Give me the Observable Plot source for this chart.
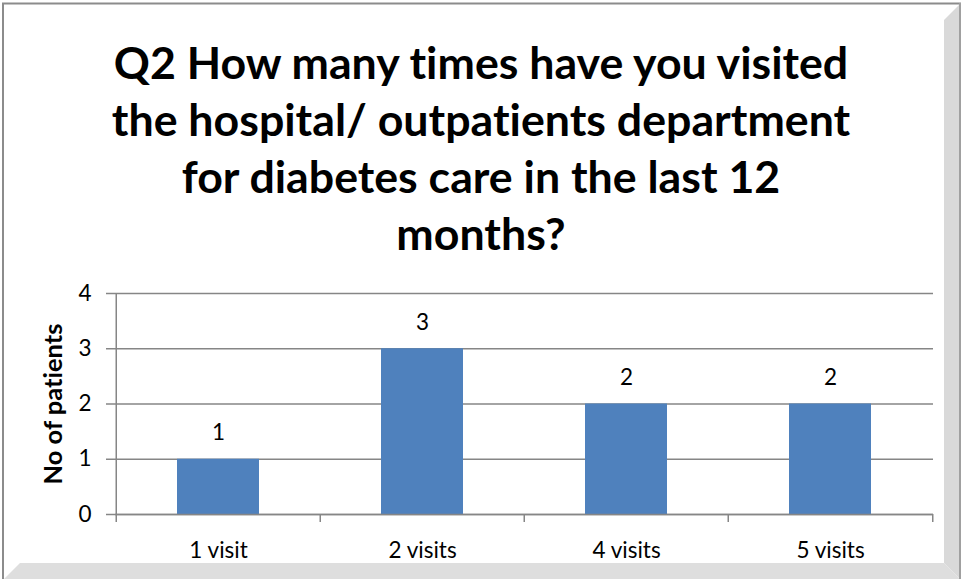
<!DOCTYPE html>
<html><head><meta charset="utf-8">
<script src="https://cdn.jsdelivr.net/npm/d3@7"></script>
<script src="https://cdn.jsdelivr.net/npm/@observablehq/plot@0.6"></script>
<style>
html,body{margin:0;padding:0;background:#fff;}
#chart{position:relative;width:962px;height:579px;overflow:hidden;font-family:Lato,sans-serif;font-variant-ligatures:none;}
#title{position:absolute;left:0;top:34px;width:962px;text-align:center;font-weight:700;font-size:44.7px;line-height:57px;color:#000;font-variant-ligatures:none;}
#plot{position:absolute;left:0;top:270px;}
#plot svg text{font-variant-ligatures:none;}
#frame{position:absolute;left:0;top:0;pointer-events:none;}
</style></head><body>
<div id="chart">
<div id="title"></div>
<div id="plot"></div>
<svg id="frame" width="962" height="579">
  <polygon points="944,20 960,4 960,579 944,563" fill="#d9d9d9"/>
  <polygon points="20,563 4,579 960,579 944,563" fill="#dedede"/>
  <line x1="2" y1="3.5" x2="961" y2="3.5" stroke="#8c8c8c" stroke-width="2"/>
  <line x1="3" y1="3" x2="3" y2="579" stroke="#8c8c8c" stroke-width="2"/>
  <line x1="960" y1="3" x2="960" y2="579" stroke="#a0a0a0" stroke-width="2"/>
</svg>
</div>
<script>
const titleLines = ["Q2 How many times have you visited", "the hospital/ outpatients department", "for diabetes care in the last 12", "months?"];
const categories = ["1 visit", "2 visits", "4 visits", "5 visits"];
const patients = [1, 3, 2, 2];
const yTicks = [0, 1, 2, 3, 4];
const yLabel = "No of patients";

document.getElementById("title").innerHTML = titleLines.join("<br>");

const data = categories.map((c, i) => ({category: c, patients: patients[i]}));
const W = 962, H = 309, mL = 115, mR = 29, mT = 23, mB = 65;
const step = (W - mL - mR) / categories.length;
const grey = "#868686";
const fs = 22.5;

const chart = Plot.plot({
  width: W, height: H,
  marginLeft: mL, marginRight: mR, marginTop: mT, marginBottom: mB,
  style: {fontFamily: "Lato, sans-serif", fontSize: fs + "px", color: "#000", background: "transparent", overflow: "visible"},
  x: {domain: categories, paddingInner: 0.6, paddingOuter: 0.3, axis: null},
  y: {domain: d3.extent(yTicks), axis: null},
  marks: [
    Plot.gridY(yTicks, {stroke: grey, strokeOpacity: 1, strokeWidth: 1.5}),
    Plot.axisY({ticks: yTicks, tickFormat: d3.format("d"), tickSize: 9, tickPadding: 15, stroke: grey, strokeWidth: 1.5, fill: "#000", fontSize: fs, label: null}),
    Plot.barY(data, {x: "category", y: "patients", fill: "#4F81BD"}),
    Plot.ruleY([0], {stroke: grey, strokeWidth: 1.5}),
    Plot.ruleX([categories[0]], {x: d => d, y1: d3.min(yTicks), y2: d3.max(yTicks), dx: -step / 2, stroke: grey, strokeWidth: 1.5}),
    Plot.axisX({tickSize: 8, fill: "none", dx: -step / 2, stroke: grey, strokeWidth: 1.5, label: null}),
    Plot.axisX({ticks: [categories[categories.length - 1]], tickSize: 8, fill: "none", dx: step / 2, stroke: grey, strokeWidth: 1.5, label: null}),
    Plot.axisX({tickSize: 0, tickPadding: 28, stroke: "none", fill: "#000", fontSize: fs, label: null}),
    Plot.text(data, {x: "category", y: "patients", text: d => String(d.patients), dy: -26, fontSize: fs, fill: "#000"}),
    Plot.text([yLabel], {frameAnchor: "left", dx: -62, rotate: -90, textAnchor: "middle", lineAnchor: "middle", fontWeight: "bold", fontSize: 25.5, fill: "#000"})
  ]
});
document.getElementById("plot").appendChild(chart);
</script>
</body></html>
